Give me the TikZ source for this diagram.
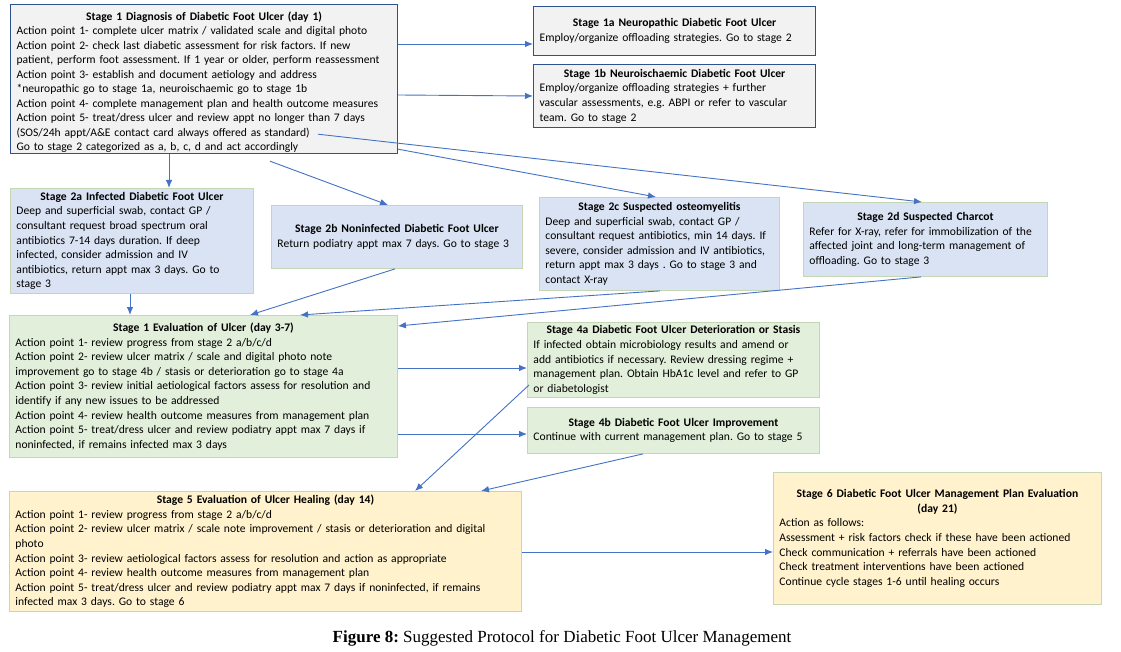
\documentclass[tikz,border=0pt]{standalone}
\usepackage{fontspec}
\setmainfont{Carlito}
\newfontfamily\capfont{Liberation Serif}
\usetikzlibrary{arrows.meta}
\frenchspacing
\definecolor{gfill}{HTML}{F2F2F2}
\definecolor{gdraw}{HTML}{2F528F}
\definecolor{bfill}{HTML}{DAE3F3}
\definecolor{lgdraw}{HTML}{C5D6B4}
\definecolor{grfill}{HTML}{E2EFDA}
\definecolor{yfill}{HTML}{FFF2CC}
\definecolor{arrc}{HTML}{4472C4}
\newcommand\hd[1]{\makebox[\hsize][c]{\bfseries #1}}
\tikzset{
  box/.style={draw, rectangle, anchor=north west, line width=0.9pt,
    inner xsep=6pt, inner ysep=0pt, align=left,
    font=\fontsize{11.6}{14.6}\selectfont\frenchspacing},
  graybox/.style={box, draw=gdraw, fill=gfill, line width=1.2pt},
  bluebox/.style={box, draw=lgdraw, fill=bfill},
  greenbox/.style={box, draw=lgdraw, fill=grfill},
  yellowbox/.style={box, draw=lgdraw, fill=yfill},
  arr/.style={draw=arrc, line width=0.9pt, -{Latex[length=8pt,width=6.5pt]}}
}
\begin{document}
\begin{tikzpicture}[x=1pt,y=-1pt]
\path[fill=white] (0,0) rectangle (1121,652);
\useasboundingbox (0,0) rectangle (1121,652);

\node[graybox, minimum width=387, text width=375, minimum height=149,
      font=\fontsize{11.6}{14.5}\selectfont\frenchspacing] (s1) at (10,4) {%
\hd{\rule{0pt}{15pt}Stage 1 Diagnosis of Diabetic Foot Ulcer (day 1)}\\
Action point 1- complete ulcer matrix / validated scale and digital photo\\
Action point 2- check last diabetic assessment for risk factors. If new\\
patient, perform foot assessment. If 1 year or older, perform reassessment\\
Action point 3- establish and document aetiology and address\\
{*}neuropathic go to stage 1a, neuroischaemic go to stage 1b\\
Action point 4- complete management plan and health outcome measures\\
Action point 5- treat/dress ulcer and review appt no longer than 7 days\\
(SOS/24h appt/A\&E contact card always offered as standard)\\
Go to stage 2 categorized as a, b, c, d and act accordingly};

\node[graybox, minimum width=282, text width=270, minimum height=49] (s1a) at (533,6) {%
\hd{Stage 1a Neuropathic Diabetic Foot Ulcer}\\
Employ/organize offloading strategies. Go to stage 2};

\node[graybox, minimum width=282, text width=270, minimum height=63] (s1b) at (533,64) {%
\hd{Stage 1b Neuroischaemic Diabetic Foot Ulcer}\\
Employ/organize offloading strategies + further\\
vascular assessments, e.g. ABPI or refer to vascular\\
team. Go to stage 2};

\node[bluebox, minimum width=243, text width=231, minimum height=105] (s2a) at (10,188) {%
\hd{Stage 2a Infected Diabetic Foot Ulcer}\\
Deep and superficial swab, contact GP /\\
consultant request broad spectrum oral\\
antibiotics 7-14 days duration. If deep\\
infected, consider admission and IV\\
antibiotics, return appt max 3 days. Go to\\
stage 3};

\node[bluebox, minimum width=251, text width=239, minimum height=63] (s2b) at (271,205) {%
\hd{Stage 2b Noninfected Diabetic Foot Ulcer}\\
Return podiatry appt max 7 days. Go to stage 3};

\node[bluebox, minimum width=240, text width=228, minimum height=93] (s2c) at (539,197) {%
\hd{Stage 2c Suspected osteomyelitis}\\
Deep and superficial swab, contact GP /\\
consultant request antibiotics, min 14 days. If\\
severe, consider admission and IV antibiotics,\\
return appt max 3 days . Go to stage 3 and\\
contact X-ray};

\node[bluebox, minimum width=244, text width=232, minimum height=74] (s2d) at (803,202) {%
\hd{Stage 2d Suspected Charcot}\\
Refer for X-ray, refer for immobilization of the\\
affected joint and long-term management of\\
offloading. Go to stage 3};

\node[greenbox, minimum width=388, text width=376, minimum height=142] (s3) at (9,315) {%
\hd{Stage 1 Evaluation of Ulcer (day 3-7)}\\
Action point 1- review progress from stage 2 a/b/c/d\\
Action point 2- review ulcer matrix / scale and digital photo note\\
improvement go to stage 4b / stasis or deterioration go to stage 4a\\
Action point 3- review initial aetiological factors assess for resolution and\\
identify if any new issues to be addressed\\
Action point 4- review health outcome measures from management plan\\
Action point 5- treat/dress ulcer and review podiatry appt max 7 days if\\
noninfected, if remains infected max 3 days};

\node[greenbox, minimum width=292, text width=280, minimum height=75] (s4a) at (527,322) {%
\hd{Stage 4a Diabetic Foot Ulcer Deterioration or Stasis}\\
If infected obtain microbiology results and amend or\\
add antibiotics if necessary. Review dressing regime +\\
management plan. Obtain HbA1c level and refer to GP\\
or diabetologist};

\node[greenbox, minimum width=292, text width=280, minimum height=46] (s4b) at (527,407) {%
\hd{Stage 4b Diabetic Foot Ulcer Improvement}\\
Continue with current management plan. Go to stage 5};

\node[yellowbox, minimum width=512, text width=500, minimum height=120] (s5) at (9,491) {%
\hd{Stage 5 Evaluation of Ulcer Healing (day 14)}\\
Action point 1- review progress from stage 2 a/b/c/d\\
Action point 2- review ulcer matrix / scale note improvement / stasis or deterioration and digital\\
photo\\
Action point 3- review aetiological factors assess for resolution and action as appropriate\\
Action point 4- review health outcome measures from management plan\\
Action point 5- treat/dress ulcer and review podiatry appt max 7 days if noninfected, if remains\\
infected max 3 days. Go to stage 6};

\node[yellowbox, minimum width=328, text width=316, minimum height=132] (s6) at (773,472) {%
\hd{Stage 6 Diabetic Foot Ulcer Management Plan Evaluation}\\
\hd{(day 21)}\\
Action as follows:\\
Assessment + risk factors check if these have been actioned\\
Check communication + referrals have been actioned\\
Check treatment interventions have been actioned\\
Continue cycle stages 1-6 until healing occurs};

\node[font=\capfont\fontsize{17}{19}\selectfont, inner sep=0pt] (cap) at (562,638)
  {\textbf{Figure 8:} Suggested Protocol for Diabetic Foot Ulcer Management};

% connectors
\draw[arr] ([yshift=-40pt]s1.north east) -- ([yshift=-38pt]s1a.north west);
\draw[arr] ([yshift=-91pt]s1.north east) -- ([yshift=-32pt]s1b.north west);
\draw[arr] ([xshift=159pt]s1.south west) -- ([xshift=159pt]s2a.north west);
\draw[arr] ([xshift=260pt,yshift=-7pt]s1.south west) -- ([xshift=117pt]s2b.north west);
\draw[arr] ([yshift=5pt]s1.south east) -- ([xshift=117pt]s2c.north west);
\draw[arr] ([xshift=308pt,yshift=20pt]s1.south west) -- ([xshift=119pt]s2d.north west);
\draw[arr] ([xshift=120pt]s2a.south west) -- ([xshift=121pt]s3.north west);
\draw[arr] ([xshift=124pt]s2b.south west) -- ([xshift=241pt]s3.north west);
\draw[arr] ([xshift=121pt]s2c.south west) -- ([xshift=291pt]s3.north west);
\draw[arr] ([xshift=118pt]s2d.south west) -- ([yshift=-11pt]s3.north east);
\draw[arr] ([yshift=-53pt]s3.north east) -- ([yshift=-46pt]s4a.north west);
\draw[arr] ([yshift=-119pt]s3.north east) -- ([yshift=-27pt]s4b.north west);
\draw[arr] ([xshift=2pt,yshift=-63pt]s4a.north west) -- ([xshift=406pt]s5.north west);
\draw[arr] ([xshift=116pt]s4b.south west) -- ([xshift=472pt]s5.north west);
\draw[arr] ([yshift=-61pt]s5.north east) -- ([yshift=-80pt]s6.north west);
\end{tikzpicture}
\end{document}
